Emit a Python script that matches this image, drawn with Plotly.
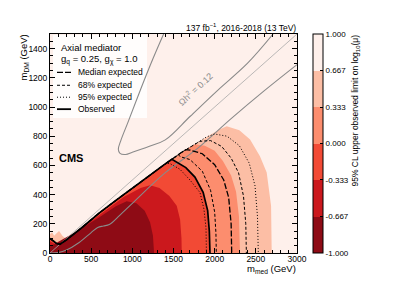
import plotly.graph_objects as go

# ---------------- data (GeV) ----------------
# jagged exclusion edge along the diagonal (shared by all contours)
EDGE_X = [0, 40, 80, 120, 200, 400, 600, 800, 1000, 1200, 1400, 1600, 1800, 1950, 2100]
EDGE_Y = [100, 85, 65, 60, 90, 180, 275, 360, 445, 530, 610, 690, 760, 810, 855]

# filled band boundaries, arc part after leaving the edge
BAND_067_X = [2050, 2146, 2300, 2430, 2550, 2632, 2685, 2693]
BAND_067_Y = [845, 868, 840, 777, 663, 551, 323, 0]
BAND_033_X = [1700, 1760, 1880, 2000, 2100, 2200, 2260, 2295, 2308]
BAND_033_Y = [725, 745, 735, 700, 630, 530, 420, 250, 0]
BAND_000_X = [1480, 1560, 1650, 1760, 1860, 1915, 1935, 1943]
BAND_000_Y = [642, 615, 585, 520, 415, 290, 150, 0]
# full boundaries of the two innermost bands
BAND_M033_X = [0, 100, 300, 600, 900, 1100, 1215, 1330, 1450, 1539, 1580, 1597, 1600]
BAND_M033_Y = [80, 50, 135, 258, 385, 445, 464, 445, 390, 323, 230, 100, 0]
BAND_M067_X = [0, 300, 600, 800, 931, 1050, 1150, 1215, 1250, 1264]
BAND_M067_Y = [45, 140, 245, 320, 355, 340, 290, 211, 120, 0]
# small excess patch at low mass above the edge
PATCH_X = [0, 0, 25, 50, 80, 110, 150, 190, 120, 60]
PATCH_Y = [100, 128, 142, 118, 135, 150, 118, 100, 62, 78]

# contour lines (arc part)
OBS_X = [1480, 1560, 1650, 1760, 1860, 1915, 1935, 1943]
OBS_Y = [642, 615, 585, 520, 415, 290, 150, 0]
MED_X = [1650, 1700, 1850, 2000, 2110, 2170, 2200, 2207]
MED_Y = [708, 705, 680, 605, 500, 380, 200, 0]
E68LO_X = [1560, 1580, 1700, 1850, 1950, 2000, 2015, 2020]
E68LO_Y = [674, 660, 640, 560, 430, 280, 140, 0]
E68HI_X = [1800, 1820, 1950, 2085, 2200, 2290, 2350, 2378, 2385]
E68HI_Y = [760, 765, 770, 730, 650, 550, 390, 200, 0]
E95LO_X = [1400, 1450, 1579, 1700, 1822, 1870, 1895, 1900]
E95LO_Y = [610, 615, 573, 500, 414, 300, 170, 0]
E95HI_X = [1900, 2000, 2150, 2300, 2420, 2490, 2520, 2530]
E95HI_Y = [795, 815, 800, 735, 615, 460, 250, 0]

# relic density Omega h^2 = 0.12 contours
RELIC1_X = [1380, 1250, 1100, 950, 860, 830, 850, 920, 1000, 1200, 1400, 1700, 2030, 2400, 2710]
RELIC1_Y = [1500, 1330, 1120, 900, 770, 710, 682, 675, 690, 730, 775, 935, 1111, 1300, 1500]
RELIC2_X = [0, 100, 200, 350, 500, 580, 650, 720, 850, 1000, 1400, 1800, 2200, 2600, 3000]
RELIC2_Y = [0, 3, 20, 70, 140, 175, 185, 195, 260, 340, 550, 720, 920, 1110, 1290]
# kinematic line m_med = 2 m_DM
KIN_X = [0, 3000]
KIN_Y = [0, 1500]

LEVELS = [-1.0, -0.667, -0.333, 0.0, 0.333, 0.667, 1.0]
LEVEL_TEXT = ["-1.000", "-0.667", "-0.333", "0.000", "0.333", "0.667", "1.000"]
COLORS = ["#8e0b15", "#cb181d", "#f24a35", "#fc8d6e", "#fcbea5", "#fef0eb"]

FONT = "Liberation Sans, Arial, Helvetica, sans-serif"

# ---------------- geometry helpers ----------------
W, H = 399, 285
L, R, T, B = 50, 297, 33.5, 253.5


def px(x):
    return (x - L) / (R - L)


def py(y):
    return (B - y) / (B - T)


def with_edge(ax, ay):
    xs = [x for x in EDGE_X if x < ax[0]]
    ys = [EDGE_Y[i] for i, x in enumerate(EDGE_X) if x < ax[0]]
    return xs + list(ax), ys + list(ay)


def polygon(xs, ys):
    return xs + [0, xs[0]], ys + [0, ys[0]]


fig = go.Figure()

# filled bands, outermost first
for (ax, ay, col) in [
    (BAND_067_X, BAND_067_Y, COLORS[4]),
    (BAND_033_X, BAND_033_Y, COLORS[3]),
    (BAND_000_X, BAND_000_Y, COLORS[2]),
]:
    xs, ys = with_edge(ax, ay)
    xs, ys = polygon(xs, ys)
    fig.add_trace(go.Scatter(x=xs, y=ys, mode="lines", fill="toself", fillcolor=col,
                             line=dict(width=0, color=col), hoverinfo="skip", showlegend=False))

fig.add_trace(go.Scatter(x=PATCH_X + [PATCH_X[0]], y=PATCH_Y + [PATCH_Y[0]], mode="lines", fill="toself",
                         fillcolor=COLORS[4], line=dict(width=0, color=COLORS[4]),
                         hoverinfo="skip", showlegend=False))

for (ax, ay, col) in [(BAND_M033_X, BAND_M033_Y, COLORS[1]), (BAND_M067_X, BAND_M067_Y, COLORS[0])]:
    xs, ys = polygon(list(ax), list(ay))
    fig.add_trace(go.Scatter(x=xs, y=ys, mode="lines", fill="toself", fillcolor=col,
                             line=dict(width=0, color=col), hoverinfo="skip", showlegend=False))

# relic and kinematic lines
fig.add_trace(go.Scatter(x=KIN_X, y=KIN_Y, mode="lines", line=dict(color="#a8a8a8", width=0.8),
                         hoverinfo="skip", showlegend=False))
for rx, ry in [(RELIC1_X, RELIC1_Y), (RELIC2_X, RELIC2_Y)]:
    fig.add_trace(go.Scatter(x=rx, y=ry, mode="lines", line=dict(color="#8a8a8a", width=1.1, shape="spline"),
                             hoverinfo="skip", showlegend=False))

# contour lines
for (ax, ay, dash, wid) in [
    (E95LO_X, E95LO_Y, "1px,2px", 1.0),
    (E95HI_X, E95HI_Y, "1px,2px", 1.0),
    (E68LO_X, E68LO_Y, "3px,2px", 1.0),
    (E68HI_X, E68HI_Y, "3px,2px", 1.0),
    (MED_X, MED_Y, "6px,2px", 1.3),
    (OBS_X, OBS_Y, "solid", 1.7),
]:
    xs, ys = with_edge(ax, ay)
    fig.add_trace(go.Scatter(x=xs, y=ys, mode="lines", line=dict(color="black", width=wid, dash=dash),
                             hoverinfo="skip", showlegend=False))

# colour bar via hidden marker trace
cs = []
n = len(COLORS)
for i, c in enumerate(COLORS):
    cs.append([i / n, c])
    cs.append([(i + 1) / n, c])
fig.add_trace(go.Scatter(
    x=[-1000], y=[-1000], mode="markers", hoverinfo="skip", showlegend=False,
    marker=dict(color=[0], colorscale=cs, cmin=-1, cmax=1, showscale=True,
                colorbar=dict(x=px(313), xanchor="left", y=0.5, yanchor="middle", len=1,
                              lenmode="fraction", thickness=10, thicknessmode="pixels",
                              outlinewidth=1, outlinecolor="black",
                              tickvals=LEVELS, ticktext=LEVEL_TEXT, ticks="inside", ticklen=3,
                              tickcolor="black", tickfont=dict(family=FONT, size=8, color="black"),
                              xpad=0, ypad=0))))

fig.update_layout(
    width=W, height=H,
    margin=dict(l=L, r=W - R, t=T, b=H - B, autoexpand=False),
    paper_bgcolor="white", plot_bgcolor=COLORS[5],
    font=dict(family=FONT, size=8, color="black"),
    showlegend=False,
)
axis_common = dict(showgrid=False, zeroline=False, showline=True, linecolor="black", linewidth=1,
                   mirror="ticks", ticks="inside", ticklen=5, tickcolor="black",
                   tickfont=dict(family=FONT, size=8.5, color="black"))
fig.update_xaxes(range=[0, 3000], dtick=500, tick0=0, ticklabelstandoff=-2,
                 minor=dict(dtick=100, ticks="inside", ticklen=3, tickcolor="black"), **axis_common)
fig.update_yaxes(range=[0, 1500], dtick=200, tick0=0,
                 minor=dict(dtick=50, ticks="inside", ticklen=3, tickcolor="black"), **axis_common)

# legend box
fig.add_shape(type="rect", xref="paper", yref="paper", x0=px(53), x1=px(147), y0=py(118), y1=py(34.5),
              fillcolor="white", opacity=0.85, line=dict(width=0), layer="below")

ann = []


def text(x, y, s, size=8.5, xanchor="left", yanchor="middle", angle=0, color="black"):
    ann.append(dict(x=px(x), y=py(y), xref="paper", yref="paper", text=s, showarrow=False,
                    xanchor=xanchor, yanchor=yanchor, textangle=angle, borderpad=0,
                    font=dict(family=FONT, size=size, color=color)))


text(60, 47, "Axial mediator", size=9.5)
text(60, 59, "g<sub>q</sub> = 0.25, g<sub>χ</sub> = 1.0", size=9.5)
entries = [("Median expected", "6px,2px", 1.3, 72), ("68% expected", "3px,2px", 1.0, 85),
           ("95% expected", "1px,2px", 1.0, 97), ("Observed", "solid", 1.8, 109)]
for name, dash, wid, yy in entries:
    fig.add_shape(type="line", xref="paper", yref="paper", x0=px(57), x1=px(71), y0=py(yy), y1=py(yy),
                  line=dict(color="black", width=wid, dash=dash))
    text(77, yy, name, size=8.5)

text(58, 158, "<b>CMS</b>", size=11)
text(297, 27, "137 fb<sup>−1</sup>, 2016-2018 (13 TeV)", size=8.5, xanchor="right")
text(297, 270, "m<sub>med</sub> (GeV)", size=9.5, xanchor="right")
text(24, 33, "m<sub>DM</sub> (GeV)", size=9.5, xanchor="center", yanchor="top", angle=-90)
text(356, 33, "95% CL upper observed limit on log<sub>10</sub>(μ)", size=8.5, xanchor="center",
     yanchor="top", angle=-90)
text(195, 89, "Ωh<sup>2</sup> = 0.12", size=9, xanchor="center", angle=-43, color="#8a8a8a")

fig.update_layout(annotations=ann)
# zero line on colour bar
fig.add_shape(type="line", xref="paper", yref="paper", x0=px(313), x1=px(323), y0=0.5, y1=0.5,
              line=dict(color="black", width=1.8))

fig.write_html("out.html", config={"displayModeBar": False},
               post_script="document.body.style.margin='0px';document.body.style.overflow='hidden';")
